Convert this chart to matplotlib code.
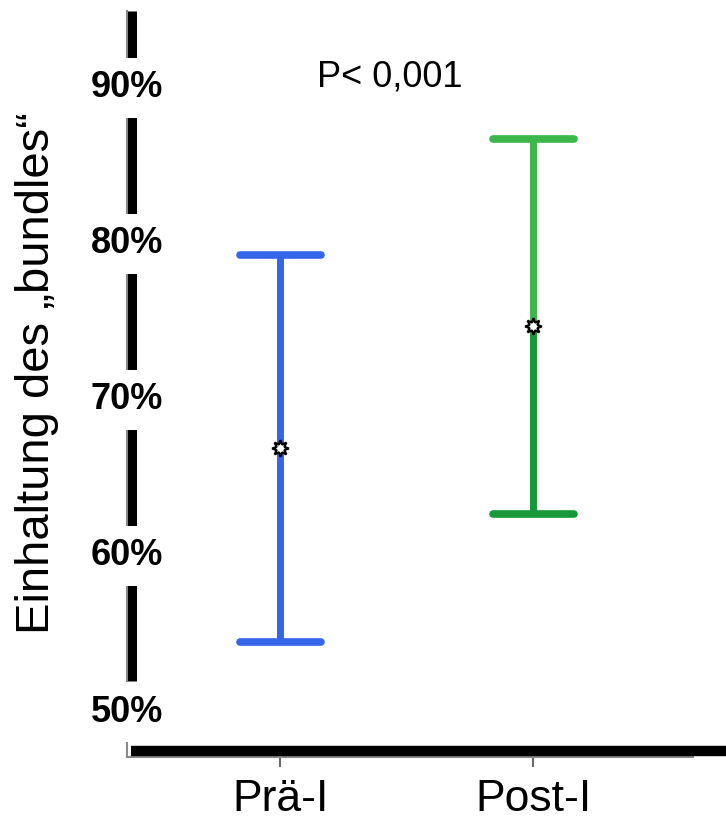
import numpy as np
import matplotlib
matplotlib.use("Agg")
import matplotlib.pyplot as plt

plt.rcParams['font.family'] = ['Liberation Sans', 'DejaVu Sans']

# Daten
gruppen = ['Prä-I', 'Post-I']
mittelwert = [66.9, 74.7]
ki_unten = [54.5, 62.7]
ki_oben = [79.3, 86.7]
y_ticks = [50, 60, 70, 80, 90]
p_text = 'P< 0,001'
y_titel = 'Einhaltung des \u201ebundles\u201c'

blau = '#3565e8'
gruen_hell = '#3db64b'
gruen_dunkel = '#17993a'

fig = plt.figure(figsize=(7.26, 8.25), dpi=100)
# Achse in Pixeln: links 127, rechts 693, unten 757, oben 11
W, H = 726, 825
ax = fig.add_axes([127 / W, (H - 757) / H, (693 - 127) / W, (757 - 11) / H])
ax.set_xlim(-0.605, 1.632)
ax.set_ylim(47.12, 94.91)

x = np.arange(len(gruppen))
cap = 0.16

# Fehlerbalken: blau einfarbig, grün zweifarbig (oben hell, unten dunkel)
farben_oben = [blau, gruen_hell]
farben_unten = [blau, gruen_dunkel]
for i in range(len(gruppen)):
    ax.plot([x[i], x[i]], [mittelwert[i], ki_oben[i]], color=farben_oben[i],
            lw=5, solid_capstyle='butt', zorder=3)
    ax.plot([x[i], x[i]], [ki_unten[i], mittelwert[i]], color=farben_unten[i],
            lw=5, solid_capstyle='butt', zorder=3)
    ax.plot([x[i] - cap, x[i] + cap], [ki_oben[i], ki_oben[i]], color=farben_oben[i],
            lw=5.5, solid_capstyle='round', zorder=3)
    ax.plot([x[i] - cap, x[i] + cap], [ki_unten[i], ki_unten[i]], color=farben_unten[i],
            lw=5.5, solid_capstyle='round', zorder=3)
ax.plot(x, mittelwert, ls='none', marker=(8, 1, 0), ms=12, mfc='white',
        mec='black', mew=1.6, zorder=4)

# graue Originalachsen
for s in ['top', 'right']:
    ax.spines[s].set_visible(False)
ax.spines['bottom'].set_color('#8a8a8a')
ax.spines['bottom'].set_linewidth(1.5)
ax.spines['left'].set_color('#8a8a8a')
ax.spines['left'].set_linewidth(1.5)
ax.set_xticks(x)
ax.set_xticklabels(gruppen, fontsize=32)
ax.tick_params(axis='x', colors='#6a6a6a', length=7, width=1.5, pad=9,
               labelcolor='black')
ax.set_yticks([])

# dicke schwarze y-Linie mit Beschriftungen darüber
ax.plot([0.008, 0.008], [52.0, 94.91], color='black', lw=6.5,
        solid_capstyle='butt', transform=ax.get_yaxis_transform(),
        clip_on=False, zorder=4)
for t in y_ticks:
    ax.text(0.0, t, f'{t}%', transform=ax.get_yaxis_transform(),
            ha='center', va='center', fontsize=26, fontweight='bold',
            bbox=dict(facecolor='white', edgecolor='none', pad=9),
            zorder=5, clip_on=False)

# dicke schwarze x-Linie
ax.plot([-0.59, 1.77], [47.48, 47.48], color='black', lw=7.5,
        solid_capstyle='butt', clip_on=False, zorder=6)

ax.text(0.435, 90.7, p_text, ha='center', va='center', fontsize=26)

fig.text(37 / W, 1 - 373 / H, y_titel, rotation=90, ha='center', va='center',
         fontsize=34)

fig.savefig('out.png', dpi=100)
